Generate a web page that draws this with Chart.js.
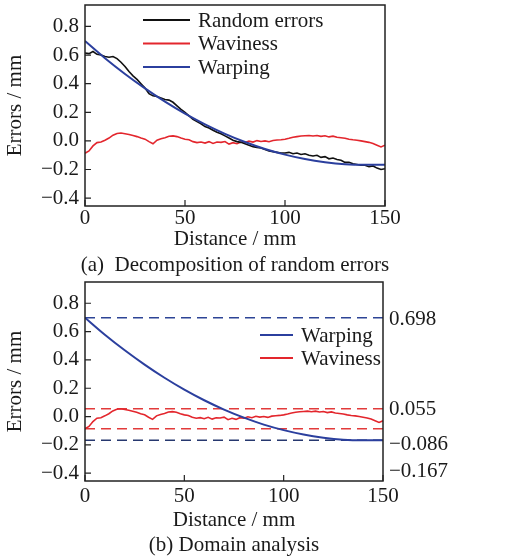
<!DOCTYPE html>
<html>
<head>
<meta charset="utf-8">
<script src="https://cdn.jsdelivr.net/npm/chart.js@4.4.0/dist/chart.umd.min.js"></script>
<style>
  body { margin: 0; background: #fff; }
  canvas { display: block; }
</style>
</head>
<body>
<canvas id="chartA" width="524" height="280"></canvas>
<canvas id="chartB" width="524" height="279"></canvas>
<script>
// Data
const distance = [0, 2, 4, 6, 8, 10, 12, 14, 16, 18, 20, 22, 24, 26, 28, 30, 32, 34, 36, 38,
  40, 42, 44, 46, 48, 50, 52, 54, 56, 58, 60, 62, 64, 66, 68, 70, 72, 74, 76, 78,
  80, 82, 84, 86, 88, 90, 92, 94, 96, 98, 100, 102, 104, 106, 108, 110, 112, 114, 116, 118,
  120, 122, 124, 126, 128, 130, 132, 134, 136, 138, 140, 142, 144, 146, 148, 150]

const randomErrors = [0.615, 0.61, 0.625, 0.605, 0.60, 0.59, 0.585, 0.59, 0.575, 0.55,
  0.52, 0.485, 0.455, 0.43, 0.40, 0.37, 0.33, 0.315, 0.31, 0.30,
  0.29, 0.285, 0.27, 0.245, 0.22, 0.20, 0.175, 0.15, 0.135, 0.12,
  0.10, 0.09, 0.075, 0.06, 0.05, 0.035, 0.02, 0.005, -0.005, -0.01,
  -0.02, -0.03, -0.04, -0.045, -0.05, -0.06, -0.07, -0.075, -0.08, -0.085,
  -0.085, -0.08, -0.09, -0.085, -0.095, -0.09, -0.10, -0.105, -0.10, -0.115,
  -0.11, -0.125, -0.12, -0.13, -0.135, -0.15, -0.15, -0.16, -0.165, -0.17,
  -0.17, -0.18, -0.175, -0.19, -0.20, -0.195]

const waviness = [-0.086, -0.07, -0.035, -0.012, -0.008, 0.005, 0.02, 0.04, 0.052, 0.055,
  0.05, 0.045, 0.038, 0.03, 0.02, 0.012, -0.005, -0.02, 0.005, 0.015,
  0.022, 0.032, 0.035, 0.03, 0.02, 0.012, 0.008, -0.005, -0.012, -0.008,
  -0.015, -0.005, -0.018, -0.008, -0.01, -0.004, -0.022, -0.012, -0.02, -0.008,
  -0.012, -0.002, -0.008, 0.002, -0.004, 0, -0.006, 0.003, 0.006, 0.008,
  0.012, 0.018, 0.025, 0.03, 0.034, 0.036, 0.038, 0.034, 0.038, 0.032,
  0.036, 0.028, 0.033, 0.025, 0.022, 0.018, 0.012, 0.008, 0.005, 0,
  -0.005, -0.01, -0.018, -0.03, -0.042, -0.03]

const warpDistance = [0, 10, 20, 30, 40, 50, 60, 70, 80, 90, 100, 110, 120, 130, 140, 150]
const warping = [0.698, 0.578, 0.468, 0.367, 0.274, 0.190, 0.115, 0.049, -0.008, -0.057,
  -0.096, -0.127, -0.149, -0.163, -0.167, -0.167]

const yTicks = [-0.4, -0.2, 0.0, 0.2, 0.4, 0.6, 0.8]
const xTicks = [0, 50, 100, 150]
const bandValues = [0.698, 0.055, -0.086, -0.167]
const bandColors = ['#2d4496', '#e23b3b', '#e23b3b', '#27386f']

const serif = "'Liberation Serif', 'Times New Roman', serif"
const ink = '#1a1a1a'
const BLACK = '#111111'
const RED = '#e3262d'
const BLUE = '#2b3f9e'

const pts = (xs, ys) => xs.map((x, i) => ({ x: x, y: ys[i] }))
const fmtNum = (v, d) => (v < 0 ? '\u2212' : '') + Math.abs(v).toFixed(d)

// frame + inward tick marks
const framePlugin = {
  id: 'frame',
  afterDatasetsDraw(chart) {
    const { ctx, chartArea: a, scales } = chart
    ctx.save()
    ctx.strokeStyle = '#222'
    ctx.lineWidth = 1.5
    ctx.strokeRect(a.left, a.top, a.right - a.left, a.bottom - a.top)
    ctx.lineWidth = 1.2
    ctx.beginPath()
    scales.y.ticks.forEach(t => {
      const y = scales.y.getPixelForValue(t.value)
      ctx.moveTo(a.left, y); ctx.lineTo(a.left + 6, y)
    })
    scales.x.ticks.forEach(t => {
      const x = scales.x.getPixelForValue(t.value)
      ctx.moveTo(x, a.bottom); ctx.lineTo(x, a.bottom - 6)
    })
    ctx.stroke()
    ctx.restore()
  }
}

// legend drawn inside the plot
const boxLegend = {
  id: 'boxLegend',
  afterDatasetsDraw(chart, args, opts) {
    const { ctx, chartArea: a } = chart
    ctx.save()
    ctx.font = '21px ' + serif
    ctx.textBaseline = 'middle'
    opts.items.forEach((it, i) => {
      const y = a.top + opts.top + i * opts.gap
      const x = a.left + opts.left
      ctx.strokeStyle = it.color
      ctx.lineWidth = 2
      ctx.beginPath(); ctx.moveTo(x, y); ctx.lineTo(x + opts.len, y); ctx.stroke()
      ctx.fillStyle = ink
      ctx.fillText(it.label, x + opts.len + 8, y + 1)
    })
    ctx.restore()
  }
}

// labels for the dashed levels on the right + caption under the plot
const extraText = {
  id: 'extraText',
  afterDraw(chart, args, opts) {
    const { ctx, chartArea: a, scales } = chart
    ctx.save()
    ctx.font = '21px ' + serif
    ctx.fillStyle = ink
    ctx.textBaseline = 'middle'
    if (opts.values) {
      opts.values.forEach((v, i) => {
        const y = scales.y.getPixelForValue(v) + opts.shift[i]
        ctx.fillText(fmtNum(v, 3), a.right + 6, y)
      })
    }
    ctx.textAlign = 'center'
    ctx.fillText(opts.caption, (a.left + a.right) / 2, a.bottom + opts.captionGap)
    ctx.restore()
  }
}

function makeScales(xHeight, tickPad, titleGap) {
  return {
    x: {
      type: 'linear', min: 0, max: 150,
      afterBuildTicks: s => { s.ticks = xTicks.map(v => ({ value: v })) },
      ticks: { padding: tickPad, color: ink, font: { family: serif, size: 21 }, maxRotation: 0 },
      grid: { display: false, drawTicks: false },
      border: { display: false },
      title: { display: true, text: 'Distance / mm', color: ink, font: { family: serif, size: 21 }, padding: { top: 0, bottom: titleGap } },
      afterFit: s => { s.height = xHeight; s.paddingLeft = 0; s.paddingRight = 0 }
    },
    y: {
      type: 'linear', min: -0.455, max: 0.95,
      afterBuildTicks: s => { s.ticks = yTicks.map(v => ({ value: v })) },
      ticks: { padding: 6, color: ink, font: { family: serif, size: 21 }, callback: v => fmtNum(v, 1) },
      grid: { display: false, drawTicks: false },
      border: { display: false },
      title: { display: true, text: 'Errors / mm', color: ink, font: { family: serif, size: 21 }, padding: { top: 3, bottom: 0 } },
      afterFit: s => { s.width = 85; s.paddingTop = 0; s.paddingBottom = 0 }
    }
  }
}

// (a) decomposition
new Chart(document.getElementById('chartA'), {
  type: 'line',
  data: {
    datasets: [
      { label: 'Random errors', data: pts(distance, randomErrors), borderColor: BLACK, borderWidth: 1.6, pointRadius: 0, tension: 0, order: 1 },
      { label: 'Waviness', data: pts(distance, waviness), borderColor: RED, borderWidth: 1.6, pointRadius: 0, tension: 0, order: 2 },
      { label: 'Warping', data: pts(warpDistance, warping), borderColor: BLUE, borderWidth: 2, pointRadius: 0, cubicInterpolationMode: 'monotone', order: 0 }
    ]
  },
  options: {
    responsive: false,
    animation: false,
    layout: { padding: { top: 5, left: 0, right: 139, bottom: 0 } },
    scales: makeScales(74, 0, 28),
    plugins: {
      legend: { display: false },
      tooltip: { enabled: false },
      boxLegend: {
        left: 58, top: 15, gap: 23.5, len: 47,
        items: [{ label: 'Random errors', color: BLACK }, { label: 'Waviness', color: RED }, { label: 'Warping', color: BLUE }]
      },
      extraText: { caption: '(a)  Decomposition of random errors', captionGap: 59 }
    }
  },
  plugins: [framePlugin, boxLegend, extraText]
})

// (b) domain analysis
const bandSets = bandValues.map((v, i) => ({
  label: 'level ' + v,
  data: [{ x: 0, y: v }, { x: 150, y: v }],
  borderColor: bandColors[i], borderWidth: 1.6, borderDash: [10, 6], pointRadius: 0, order: 5
}))

new Chart(document.getElementById('chartB'), {
  type: 'line',
  data: {
    datasets: [
      { label: 'Warping', data: pts(warpDistance, warping), borderColor: BLUE, borderWidth: 2, pointRadius: 0, cubicInterpolationMode: 'monotone', order: 0 },
      { label: 'Waviness', data: pts(distance, waviness), borderColor: RED, borderWidth: 1.6, pointRadius: 0, tension: 0, order: 1 }
    ].concat(bandSets)
  },
  options: {
    responsive: false,
    animation: false,
    layout: { padding: { top: 2, left: 0, right: 141, bottom: 0 } },
    scales: makeScales(78, 3, 26),
    plugins: {
      legend: { display: false },
      tooltip: { enabled: false },
      boxLegend: {
        left: 175, top: 53, gap: 23, len: 33,
        items: [{ label: 'Warping', color: BLUE }, { label: 'Waviness', color: RED }]
      },
      extraText: { values: bandValues, shift: [2, 1, 16, 31], caption: '(b) Domain analysis', captionGap: 64 }
    }
  },
  plugins: [framePlugin, boxLegend, extraText]
})
</script>
</body>
</html>
